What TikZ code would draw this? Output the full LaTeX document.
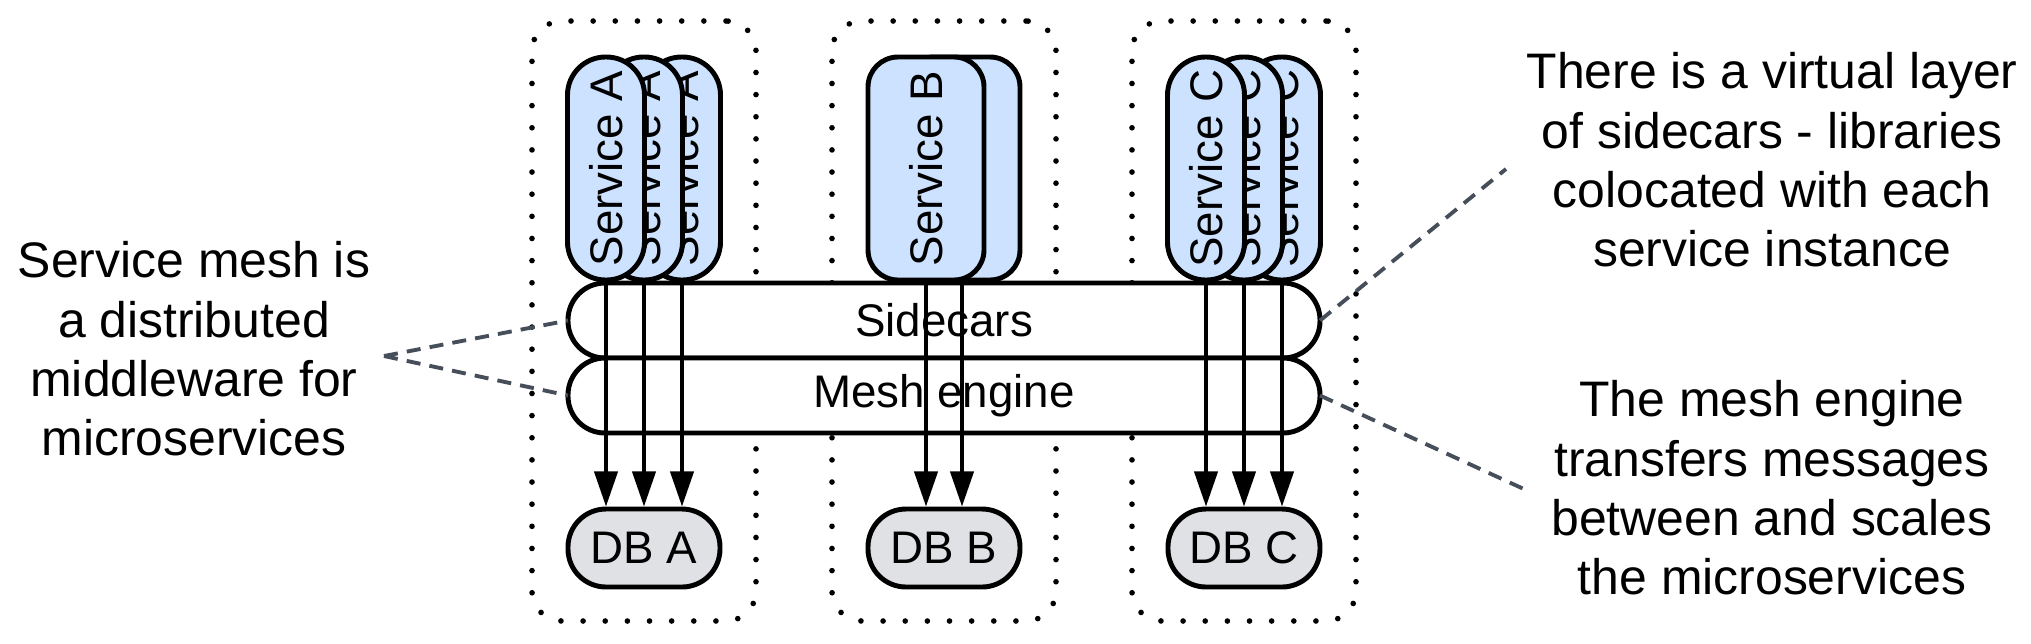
\documentclass[tikz,border=0pt]{standalone}
\usepackage{fontspec}
\setmainfont{Liberation Sans}
\usetikzlibrary{arrows.meta,positioning}
\definecolor{svcblue}{RGB}{204,226,255}
\definecolor{dbgray}{RGB}{223,225,229}
\definecolor{notegray}{RGB}{70,78,90}

\begin{document}
\begin{tikzpicture}[
    zone/.style={draw, line width=1.6pt, dash pattern=on 0pt off 6.3pt, line cap=round, rounded corners=0.3cm, minimum width=2.24cm, minimum height=6cm},
    bar/.style={draw, line width=1.4pt, fill=white, rounded corners=0.37cm, minimum width=7.52cm, minimum height=0.75cm, outer sep=0pt, font=\fontsize{13}{15}\selectfont},
    svc/.style={draw, line width=1.4pt, fill=svcblue, minimum height=2.23cm, inner sep=0pt, font=\fontsize{13}{15}\selectfont},
    db/.style={draw, line width=1.4pt, fill=dbgray, rounded corners=0.38cm, minimum width=1.52cm, minimum height=0.78cm, font=\fontsize{13}{15}\selectfont},
    flow/.style={line width=1pt, -{Triangle[length=10pt,width=6.6pt]}},
    note/.style={align=center, font=\fontsize{14.2}{16.9}\selectfont},
    hint/.style={draw=notegray, line width=1.1pt, dash pattern=on 4pt off 2.6pt}
]
\useasboundingbox (0,0) rectangle (20.31,-6.43);

% zones
\foreach \col/\nm in {6.44/A, 9.44/B, 12.44/C}
    \node[zone] (z\nm) at (\col,-3.21) {};

% sidecars and mesh engine
\node[bar] (side) at (9.44,-3.205) {Sidecars};
\node[bar, below=0pt of side] (mesh) {Mesh engine};

% services
\foreach \col/\nm in {6.44/A, 12.44/C} {
    \foreach \k in {2,1,0} {
        \node[svc, minimum width=0.77cm, rounded corners=0.38cm] (s\nm\k) at ({\col-0.38+\k*0.38},-1.685) {\rotatebox{90}{Service \nm}};
    }
}
\foreach \k in {1,0}
    \node[svc, minimum width=1.16cm, rounded corners=0.3cm] (sB\k) at ({9.26+\k*0.36},-1.685) {\rotatebox{90}{Service B}};

% databases
\foreach \col/\nm in {6.44/A, 9.44/B, 12.44/C}
    \node[db] (db\nm) at (\col,-5.48) {DB \nm};

% calls
\foreach \nm in {A,C}
    \foreach \k in {0,1,2}
        \draw[flow] (s\nm\k.south) -- (s\nm\k.south |- db\nm.north);
\foreach \k in {0,1}
    \draw[flow] (sB\k.south) -- (sB\k.south |- dbB.north);

% notes
\node[note] (lnote) at (1.94,-3.49) {Service mesh is\\a distributed\\middleware for\\microservices};
\node[note] (tnote) at (17.72,-1.60) {There is a virtual layer\\of sidecars - libraries\\colocated with each\\service instance};
\node[note] (bnote) at (17.72,-4.88) {The mesh engine\\transfers messages\\between and scales\\the microservices};

\coordinate (lp) at (3.84,-3.56);
\coordinate (rt) at (15.06,-1.69);
\coordinate (rb) at (15.26,-4.90);
\draw[hint] (lp) -- (side.west);
\draw[hint] (lp) -- (mesh.west);
\draw[hint] (side.east) -- (rt);
\draw[hint] (mesh.east) -- (rb);
\end{tikzpicture}
\end{document}
